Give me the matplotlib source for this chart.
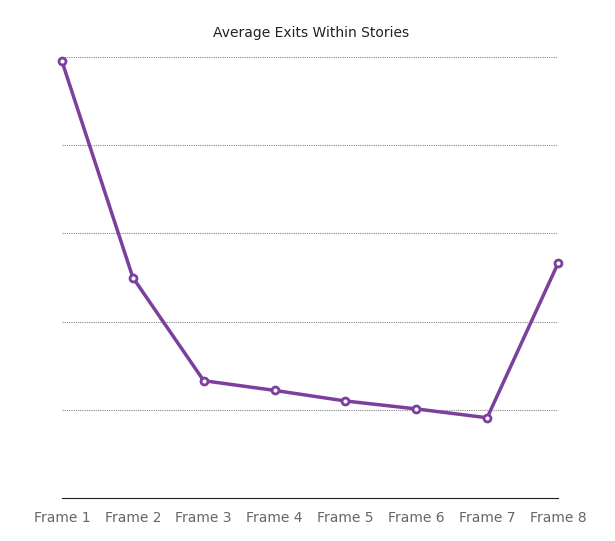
import matplotlib
matplotlib.use("Agg")
import matplotlib.pyplot as plt

frames = ["Frame 1","Frame 2","Frame 3","Frame 4","Frame 5","Frame 6","Frame 7","Frame 8"]
values = [4.95, 2.5, 1.33, 1.22, 1.10, 1.01, 0.91, 2.66]

fig = plt.figure(figsize=(6.15,5.41), dpi=100)
ax = fig.add_axes([62/615, 43/541, 496/615, 441/541])
x = list(range(len(frames)))
ax.plot(x, values, color="#7b3f9e", lw=2.5, marker="o", ms=5, mfc="white", mec="#7b3f9e", mew=2, clip_on=False, zorder=3)
ax.set_xlim(0, 7)
ax.set_ylim(0, 5)
for g in [1,2,3,4,5]:
    ax.axhline(g, color="#888888", lw=0.8, ls=(0,(1,1)), zorder=1)
for s in ["top","right","left"]:
    ax.spines[s].set_visible(False)
ax.spines["bottom"].set_color("#222222")
ax.set_yticks([])
ax.set_xticks(x)
ax.set_xticklabels(frames, color="#666666", fontsize=10)
ax.tick_params(axis="x", length=0, pad=9)
fig.text(311/615, 1-33/541, "Average Exits Within Stories", ha="center", va="center", fontsize=10, color="#222222")
fig.savefig("out.png")
